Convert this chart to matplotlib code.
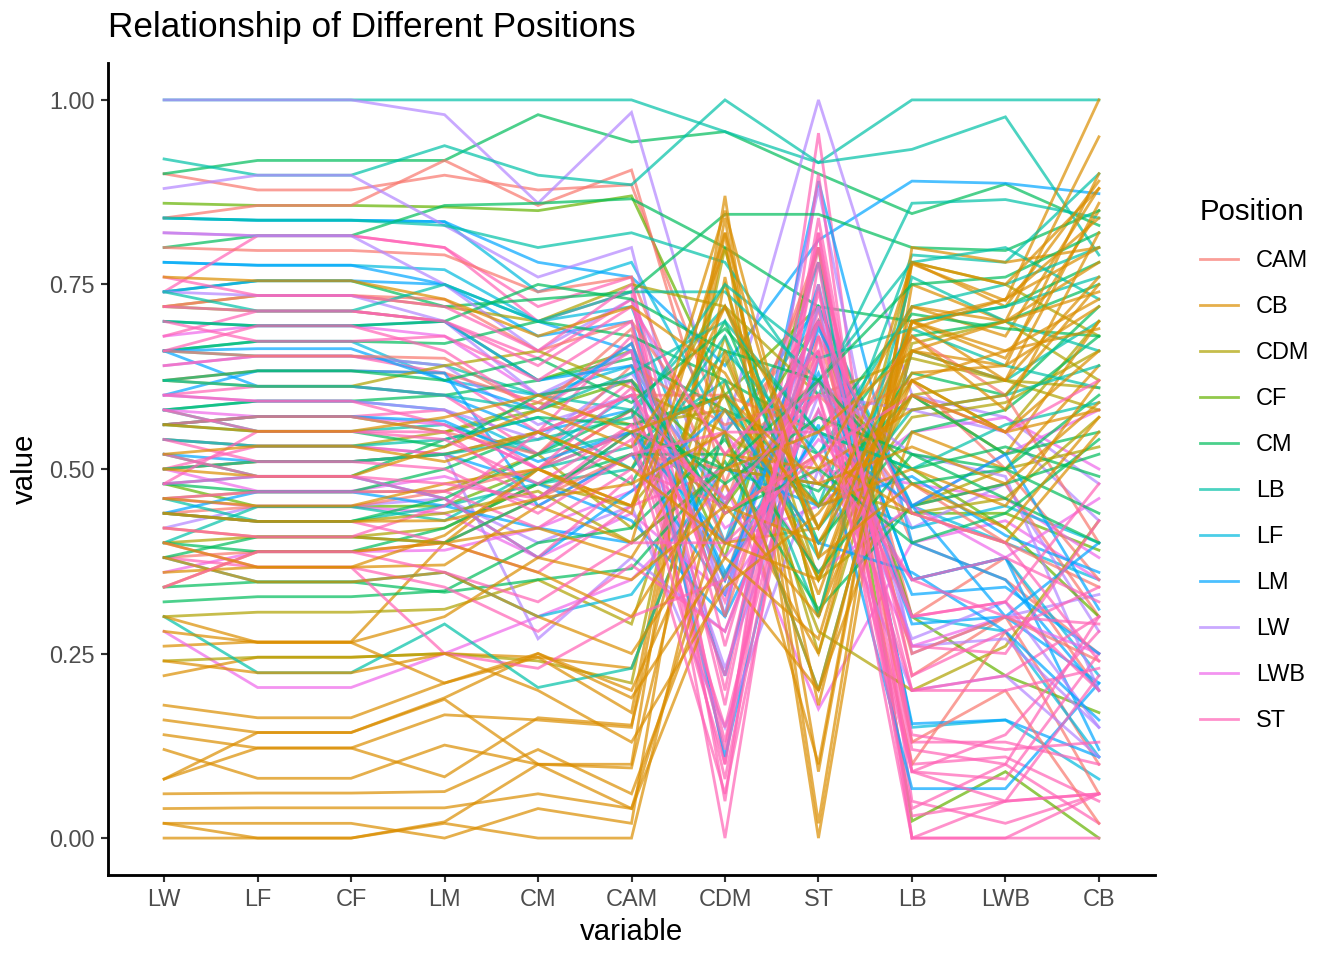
import matplotlib
matplotlib.use("Agg")
import matplotlib.pyplot as plt
from matplotlib.lines import Line2D

plt.rcParams["font.family"] = ["Liberation Sans", "DejaVu Sans"]

# === datos ===
variables = ["LW", "LF", "CF", "LM", "CM", "CAM", "CDM", "ST", "LB", "LWB", "CB"]
positions = ["CAM", "CB", "CDM", "CF", "CM", "LB", "LF", "LM", "LW", "LWB", "ST"]
colores = ["#F8766D", "#DB8E00", "#AEA200", "#64B200", "#00BD5C", "#00C1A7",
           "#00BADE", "#00A6FF", "#B385FF", "#EF67EB", "#FF63B6"]

cam_rows = [
    [0.90, 0.878, 0.878, 0.898, 0.878, 0.885, 0.55, 0.70, 0.40, 0.35, 0.25],
    [0.84, 0.857, 0.857, 0.918, 0.857, 0.905, 0.48, 0.78, 0.30, 0.38, 0.20],
    [0.80, 0.796, 0.796, 0.79, 0.74, 0.76, 0.45, 0.80, 0.22, 0.30, 0.10],
    [0.72, 0.735, 0.735, 0.73, 0.66, 0.70, 0.52, 0.62, 0.45, 0.48, 0.30],
    [0.62, 0.633, 0.633, 0.63, 0.59, 0.67, 0.40, 0.66, 0.10, 0.28, 0.06],
    [0.50, 0.51, 0.51, 0.52, 0.55, 0.60, 0.60, 0.55, 0.62, 0.50, 0.35],
    [0.44, 0.449, 0.449, 0.47, 0.50, 0.58, 0.35, 0.72, 0.13, 0.20, 0.02],
    [0.38, 0.388, 0.388, 0.40, 0.46, 0.52, 0.50, 0.48, 0.68, 0.60, 0.40],
    [0.56, 0.571, 0.571, 0.55, 0.52, 0.64, 0.56, 0.60, 0.48, 0.40, 0.34],
    [0.66, 0.653, 0.653, 0.65, 0.58, 0.69, 0.30, 0.68, 0.25, 0.30, 0.24],
]
cb_rows = [
    [0.26, 0.266, 0.266, 0.40, 0.50, 0.45, 0.80, 0.30, 0.70, 0.65, 0.85],
    [0.22, 0.245, 0.245, 0.25, 0.245, 0.23, 0.55, 0.10, 0.78, 0.72, 0.89],
    [0.18, 0.163, 0.163, 0.21, 0.245, 0.17, 0.84, 0.09, 0.778, 0.728, 1.00],
    [0.16, 0.143, 0.143, 0.19, 0.25, 0.20, 0.48, 0.25, 0.72, 0.68, 0.88],
    [0.14, 0.122, 0.122, 0.167, 0.16, 0.15, 0.82, 0.00, 0.75, 0.70, 0.95],
    [0.12, 0.081, 0.081, 0.126, 0.10, 0.10, 0.87, 0.02, 0.80, 0.78, 0.80],
    [0.08, 0.143, 0.143, 0.188, 0.10, 0.095, 0.62, 0.35, 0.66, 0.64, 0.90],
    [0.06, 0.061, 0.061, 0.063, 0.12, 0.06, 0.40, 0.42, 0.60, 0.52, 0.70],
    [0.04, 0.041, 0.041, 0.041, 0.06, 0.04, 0.36, 0.20, 0.55, 0.50, 0.64],
    [0.02, 0.02, 0.02, 0.0, 0.04, 0.02, 0.76, 0.18, 0.70, 0.62, 0.86],
    [0.0, 0.0, 0.0, 0.022, 0.10, 0.04, 0.45, 0.40, 0.62, 0.55, 0.58],
    [0.02, 0.0, 0.0, 0.02, 0.0, 0.0, 0.52, 0.50, 0.58, 0.60, 0.75],
    [0.08, 0.122, 0.122, 0.083, 0.163, 0.153, 0.66, 0.33, 0.68, 0.58, 0.82],
    [0.36, 0.367, 0.367, 0.37, 0.45, 0.40, 0.82, 0.38, 0.78, 0.75, 0.88],
    [0.34, 0.388, 0.388, 0.40, 0.42, 0.38, 0.58, 0.45, 0.50, 0.45, 0.62],
    [0.38, 0.347, 0.347, 0.36, 0.30, 0.25, 0.44, 0.52, 0.44, 0.40, 0.55],
    [0.46, 0.45, 0.45, 0.48, 0.50, 0.45, 0.72, 0.42, 0.63, 0.64, 0.72],
    [0.42, 0.408, 0.408, 0.40, 0.36, 0.30, 0.50, 0.55, 0.66, 0.70, 0.78],
    [0.30, 0.265, 0.265, 0.21, 0.25, 0.19, 0.38, 0.27, 0.70, 0.66, 0.69],
    [0.24, 0.224, 0.224, 0.25, 0.20, 0.13, 0.34, 0.44, 0.60, 0.55, 0.66],
    [0.50, 0.49, 0.49, 0.53, 0.58, 0.53, 0.72, 0.50, 0.72, 0.70, 0.74],
    [0.56, 0.551, 0.551, 0.57, 0.60, 0.55, 0.60, 0.48, 0.53, 0.48, 0.59],
    [0.76, 0.755, 0.755, 0.73, 0.68, 0.72, 0.63, 0.42, 0.69, 0.73, 0.80],
    [0.40, 0.367, 0.367, 0.41, 0.50, 0.44, 0.85, 0.38, 0.48, 0.42, 0.57],
    [0.28, 0.265, 0.265, 0.30, 0.38, 0.35, 0.45, 0.30, 0.62, 0.66, 0.73],
    [0.44, 0.429, 0.429, 0.43, 0.46, 0.48, 0.55, 0.20, 0.66, 0.62, 0.76],
    [0.52, 0.531, 0.531, 0.51, 0.55, 0.50, 0.40, 0.35, 0.70, 0.73, 0.84],
]
cdm_rows = [
    [0.30, 0.306, 0.306, 0.31, 0.35, 0.29, 0.68, 0.25, 0.67, 0.70, 0.62],
    [0.24, 0.245, 0.245, 0.25, 0.24, 0.21, 0.80, 0.30, 0.78, 0.75, 0.68],
    [0.72, 0.735, 0.735, 0.72, 0.70, 0.75, 0.72, 0.60, 0.65, 0.62, 0.58],
    [0.54, 0.531, 0.531, 0.55, 0.59, 0.56, 0.58, 0.40, 0.57, 0.59, 0.66],
    [0.46, 0.469, 0.469, 0.47, 0.52, 0.42, 0.65, 0.35, 0.45, 0.50, 0.53],
    [0.40, 0.408, 0.408, 0.42, 0.48, 0.45, 0.60, 0.28, 0.20, 0.26, 0.43],
    [0.62, 0.612, 0.612, 0.64, 0.66, 0.61, 0.55, 0.45, 0.62, 0.55, 0.70],
    [0.50, 0.51, 0.51, 0.52, 0.55, 0.50, 0.75, 0.35, 0.60, 0.62, 0.61],
    [0.44, 0.429, 0.429, 0.44, 0.47, 0.40, 0.50, 0.48, 0.44, 0.46, 0.57],
]
cf_rows = [
    [0.86, 0.857, 0.857, 0.855, 0.85, 0.87, 0.60, 0.72, 0.44, 0.44, 0.39],
    [0.72, 0.714, 0.714, 0.70, 0.62, 0.66, 0.38, 0.80, 0.023, 0.09, 0.0],
    [0.56, 0.571, 0.571, 0.55, 0.58, 0.62, 0.50, 0.70, 0.30, 0.22, 0.17],
    [0.48, 0.449, 0.449, 0.45, 0.50, 0.55, 0.45, 0.62, 0.50, 0.42, 0.30],
]
cm_rows = [
    [0.90, 0.918, 0.918, 0.918, 0.98, 0.943, 0.957, 0.90, 0.846, 0.886, 0.83],
    [0.80, 0.816, 0.816, 0.857, 0.86, 0.866, 0.80, 0.72, 0.70, 0.72, 0.78],
    [0.74, 0.755, 0.755, 0.72, 0.73, 0.74, 0.845, 0.845, 0.80, 0.796, 0.85],
    [0.66, 0.673, 0.673, 0.67, 0.70, 0.68, 0.62, 0.55, 0.71, 0.69, 0.68],
    [0.58, 0.592, 0.592, 0.60, 0.62, 0.65, 0.58, 0.52, 0.68, 0.70, 0.75],
    [0.52, 0.49, 0.49, 0.54, 0.57, 0.56, 0.60, 0.45, 0.63, 0.60, 0.72],
    [0.48, 0.469, 0.469, 0.50, 0.55, 0.48, 0.70, 0.40, 0.55, 0.58, 0.68],
    [0.40, 0.388, 0.388, 0.42, 0.48, 0.52, 0.52, 0.47, 0.60, 0.52, 0.55],
    [0.34, 0.347, 0.347, 0.333, 0.35, 0.365, 0.51, 0.31, 0.45, 0.48, 0.52],
    [0.32, 0.327, 0.327, 0.335, 0.40, 0.42, 0.54, 0.36, 0.52, 0.50, 0.60],
    [0.70, 0.694, 0.694, 0.70, 0.75, 0.73, 0.66, 0.62, 0.75, 0.76, 0.82],
    [0.62, 0.633, 0.633, 0.62, 0.65, 0.59, 0.69, 0.55, 0.50, 0.53, 0.49],
    [0.44, 0.429, 0.429, 0.46, 0.52, 0.58, 0.48, 0.57, 0.52, 0.46, 0.40],
    [0.56, 0.551, 0.551, 0.53, 0.60, 0.62, 0.44, 0.50, 0.40, 0.44, 0.54],
    [0.38, 0.408, 0.408, 0.40, 0.46, 0.55, 0.50, 0.62, 0.48, 0.50, 0.44],
]
lb_rows = [
    [1.0, 1.0, 1.0, 1.0, 1.0, 1.0, 0.957, 0.915, 1.0, 1.0, 1.0],
    [0.92, 0.898, 0.898, 0.938, 0.898, 0.885, 1.0, 0.915, 0.933, 0.977, 0.79],
    [0.84, 0.837, 0.837, 0.83, 0.80, 0.82, 0.78, 0.60, 0.86, 0.865, 0.84],
    [0.66, 0.653, 0.653, 0.64, 0.60, 0.58, 0.72, 0.45, 0.79, 0.78, 0.90],
    [0.58, 0.551, 0.551, 0.56, 0.52, 0.55, 0.60, 0.38, 0.70, 0.72, 0.76],
    [0.30, 0.224, 0.224, 0.29, 0.204, 0.23, 0.55, 0.20, 0.66, 0.62, 0.70],
    [0.46, 0.429, 0.429, 0.45, 0.48, 0.50, 0.66, 0.52, 0.72, 0.75, 0.80],
    [0.40, 0.449, 0.449, 0.43, 0.50, 0.53, 0.62, 0.30, 0.76, 0.70, 0.66],
    [0.74, 0.714, 0.714, 0.75, 0.70, 0.74, 0.74, 0.62, 0.78, 0.80, 0.73],
    [0.50, 0.51, 0.51, 0.52, 0.54, 0.57, 0.75, 0.65, 0.69, 0.64, 0.61],
    [0.54, 0.531, 0.531, 0.54, 0.57, 0.50, 0.68, 0.42, 0.58, 0.60, 0.64],
    [0.62, 0.612, 0.612, 0.60, 0.58, 0.63, 0.70, 0.55, 0.50, 0.56, 0.59],
]
lf_rows = [
    [0.84, 0.837, 0.837, 0.835, 0.74, 0.78, 0.55, 0.72, 0.45, 0.40, 0.35],
    [0.78, 0.776, 0.776, 0.77, 0.70, 0.72, 0.40, 0.78, 0.15, 0.16, 0.08],
    [0.66, 0.673, 0.673, 0.62, 0.60, 0.64, 0.45, 0.70, 0.35, 0.38, 0.22],
    [0.58, 0.592, 0.592, 0.58, 0.52, 0.60, 0.35, 0.62, 0.30, 0.28, 0.11],
    [0.38, 0.347, 0.347, 0.36, 0.30, 0.33, 0.50, 0.48, 0.42, 0.45, 0.40],
]
lm_rows = [
    [0.84, 0.837, 0.837, 0.835, 0.78, 0.76, 0.64, 0.81, 0.89, 0.887, 0.873],
    [0.78, 0.776, 0.776, 0.75, 0.68, 0.70, 0.30, 0.89, 0.40, 0.35, 0.20],
    [0.74, 0.755, 0.755, 0.75, 0.70, 0.66, 0.11, 0.65, 0.29, 0.30, 0.21],
    [0.66, 0.612, 0.612, 0.60, 0.55, 0.58, 0.22, 0.70, 0.35, 0.38, 0.12],
    [0.60, 0.633, 0.633, 0.63, 0.45, 0.52, 0.33, 0.75, 0.155, 0.16, 0.11],
    [0.52, 0.51, 0.51, 0.52, 0.48, 0.43, 0.30, 0.56, 0.067, 0.067, 0.21],
    [0.44, 0.469, 0.469, 0.45, 0.42, 0.40, 0.50, 0.45, 0.49, 0.41, 0.36],
    [0.56, 0.571, 0.571, 0.565, 0.51, 0.55, 0.40, 0.63, 0.33, 0.34, 0.25],
    [0.66, 0.663, 0.663, 0.62, 0.58, 0.67, 0.35, 0.69, 0.45, 0.30, 0.40],
    [0.70, 0.694, 0.694, 0.70, 0.62, 0.64, 0.36, 0.55, 0.45, 0.52, 0.31],
    [0.48, 0.49, 0.49, 0.46, 0.38, 0.47, 0.58, 0.40, 0.36, 0.28, 0.16],
]
lw_rows = [
    [1.0, 1.0, 1.0, 0.98, 0.86, 0.983, 0.55, 1.0, 0.60, 0.57, 0.48],
    [0.88, 0.898, 0.898, 0.83, 0.76, 0.80, 0.30, 0.88, 0.25, 0.30, 0.33],
    [0.82, 0.816, 0.816, 0.75, 0.66, 0.73, 0.45, 0.68, 0.42, 0.48, 0.28],
    [0.64, 0.653, 0.653, 0.64, 0.56, 0.60, 0.23, 0.58, 0.27, 0.32, 0.15],
    [0.42, 0.45, 0.45, 0.46, 0.40, 0.45, 0.15, 0.50, 0.20, 0.22, 0.11],
    [0.54, 0.531, 0.531, 0.52, 0.27, 0.38, 0.28, 0.60, 0.58, 0.55, 0.43],
    [0.74, 0.735, 0.735, 0.70, 0.60, 0.66, 0.33, 0.72, 0.26, 0.27, 0.15],
    [0.60, 0.592, 0.592, 0.58, 0.54, 0.63, 0.46, 0.62, 0.52, 0.49, 0.20],
]
lwb_rows = [
    [0.28, 0.204, 0.204, 0.25, 0.30, 0.35, 0.48, 0.175, 0.40, 0.43, 0.35],
    [0.50, 0.47, 0.47, 0.49, 0.45, 0.52, 0.40, 0.45, 0.55, 0.57, 0.50],
    [0.68, 0.694, 0.694, 0.68, 0.60, 0.62, 0.42, 0.50, 0.48, 0.46, 0.38],
    [0.46, 0.449, 0.449, 0.44, 0.38, 0.44, 0.33, 0.52, 0.26, 0.30, 0.25],
    [0.36, 0.388, 0.388, 0.39, 0.42, 0.47, 0.55, 0.36, 0.45, 0.52, 0.58],
    [0.58, 0.571, 0.571, 0.56, 0.50, 0.55, 0.38, 0.54, 0.45, 0.38, 0.46],
]
st_rows = [
    [0.82, 0.816, 0.816, 0.80, 0.72, 0.76, 0.10, 0.955, 0.05, 0.02, 0.06],
    [0.74, 0.816, 0.816, 0.80, 0.70, 0.74, 0.05, 0.90, 0.0, 0.0, 0.0],
    [0.68, 0.714, 0.714, 0.70, 0.65, 0.73, 0.20, 0.82, 0.10, 0.11, 0.05],
    [0.64, 0.653, 0.653, 0.63, 0.55, 0.68, 0.0, 0.78, 0.0, 0.05, 0.06],
    [0.60, 0.612, 0.612, 0.60, 0.52, 0.62, 0.08, 0.72, 0.04, 0.10, 0.02],
    [0.56, 0.571, 0.571, 0.58, 0.50, 0.58, 0.12, 0.84, 0.13, 0.13, 0.10],
    [0.50, 0.531, 0.531, 0.52, 0.46, 0.55, 0.15, 0.66, 0.09, 0.08, 0.25],
    [0.46, 0.469, 0.469, 0.47, 0.42, 0.50, 0.45, 0.70, 0.20, 0.22, 0.30],
    [0.44, 0.429, 0.429, 0.40, 0.36, 0.45, 0.50, 0.60, 0.20, 0.20, 0.23],
    [0.40, 0.367, 0.367, 0.34, 0.28, 0.37, 0.28, 0.62, 0.26, 0.25, 0.43],
    [0.38, 0.367, 0.367, 0.25, 0.23, 0.30, 0.35, 0.58, 0.30, 0.32, 0.20],
    [0.70, 0.673, 0.673, 0.68, 0.62, 0.70, 0.18, 0.80, 0.14, 0.12, 0.13],
    [0.66, 0.694, 0.694, 0.66, 0.58, 0.66, 0.13, 0.75, 0.09, 0.14, 0.28],
    [0.52, 0.49, 0.49, 0.46, 0.38, 0.49, 0.06, 0.68, 0.03, 0.05, 0.06],
    [0.48, 0.551, 0.551, 0.55, 0.46, 0.56, 0.22, 0.74, 0.22, 0.28, 0.34],
    [0.60, 0.592, 0.592, 0.56, 0.50, 0.61, 0.32, 0.65, 0.30, 0.32, 0.48],
    [0.54, 0.51, 0.51, 0.50, 0.44, 0.52, 0.55, 0.55, 0.35, 0.30, 0.29],
    [0.76, 0.735, 0.735, 0.72, 0.66, 0.75, 0.26, 0.70, 0.44, 0.40, 0.24],
    [0.42, 0.408, 0.408, 0.45, 0.55, 0.60, 0.44, 0.52, 0.60, 0.55, 0.62],
    [0.34, 0.388, 0.388, 0.36, 0.32, 0.40, 0.40, 0.52, 0.35, 0.38, 0.32],
    [0.58, 0.551, 0.551, 0.54, 0.48, 0.56, 0.46, 0.60, 0.09, 0.05, 0.22],
    [0.72, 0.714, 0.714, 0.70, 0.64, 0.72, 0.52, 0.66, 0.0, 0.0, 0.06],
    [0.48, 0.49, 0.49, 0.48, 0.46, 0.54, 0.10, 0.82, 0.12, 0.10, 0.30],
]

grupos = [cam_rows, cb_rows, cdm_rows, cf_rows, cm_rows, lb_rows,
          lf_rows, lm_rows, lw_rows, lwb_rows, st_rows]

# === figura (7x5 in a 192 dpi, como ggplot) ===
fig = plt.figure(figsize=(7, 5), dpi=192)
ax = fig.add_axes([108 / 1344, 1 - 875 / 960, (1155 - 108) / 1344, (875 - 63) / 960])

x = list(range(len(variables)))
# intercalar los grupos para que ninguna posición quede siempre encima
n_max = max(len(g) for g in grupos)
for i in range(n_max):
    for g, col in zip(grupos, colores):
        if i < len(g):
            ax.plot(x, g[i], color=col, alpha=0.7, lw=1.05, solid_joinstyle="miter")

ax.set_xlim(-0.6, len(variables) - 1 + 0.6)
ax.set_ylim(-0.05, 1.05)
ax.set_xticks(x)
ax.set_xticklabels(variables)
ax.set_yticks([0, 0.25, 0.5, 0.75, 1.0])
ax.set_yticklabels(["0.00", "0.25", "0.50", "0.75", "1.00"])
ax.tick_params(labelsize=8.8, labelcolor="#4D4D4D", color="#333333",
               length=2.75, width=0.8, pad=2.2)
for s in ["top", "right"]:
    ax.spines[s].set_visible(False)
for s in ["left", "bottom"]:
    ax.spines[s].set_linewidth(1.07)

ax.set_xlabel("variable", fontsize=11, labelpad=2.5)
ax.set_ylabel("value", fontsize=11, labelpad=4)
fig.text(108 / 1344, 1 - 28 / 960, "Relationship of Different Positions",
         fontsize=13.2, ha="left", va="center")

handles = [Line2D([0], [0], color=c, lw=1.05, alpha=0.7) for c in colores]
leg = fig.legend(handles, positions, title="Position", loc="upper left",
                 bbox_to_anchor=(1179 / 1344, 1 - 177 / 960), frameon=False,
                 fontsize=8.8, title_fontsize=11, handlelength=1.62,
                 handletextpad=0.77, labelspacing=0.98, alignment="left")

fig.savefig("out.png", dpi=192)
